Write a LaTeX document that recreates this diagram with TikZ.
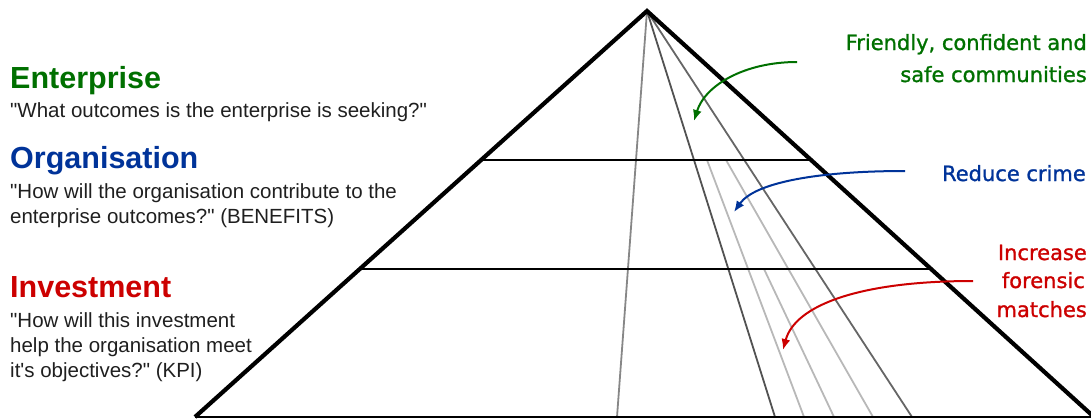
\documentclass[tikz,border=0pt]{standalone}
\usepackage{fontspec}
\setmainfont{Liberation Sans}
\newfontfamily\dejavu[FakeBold=1.2]{DejaVu Sans}
\usetikzlibrary{arrows.meta,calc}
\definecolor{entgreen}{RGB}{0,112,0}
\definecolor{orgblue}{RGB}{0,51,153}
\definecolor{invred}{RGB}{204,0,0}
\newcommand{\qq}{\textquotedbl}
\begin{document}
\begin{tikzpicture}[x=1pt,y=-1pt,
  heading/.style={anchor=base west,inner sep=0pt,font=\fontsize{30.5}{36}\selectfont\bfseries},
  question/.style={anchor=base west,inner sep=0pt,font=\fontsize{20.5}{24}\selectfont,text=black!88},
  goal/.style={anchor=base east,inner sep=0pt,font=\dejavu\fontsize{21}{25}\selectfont},
  outline/.style={line width=4.2pt,line join=miter},
  tier/.style={line width=2pt},
  ray/.style={line width=1.8pt},
  pointer/.style={line width=2pt,-{Latex[length=11pt,width=9pt]}}
]
\useasboundingbox (0,0) rectangle (1091,418);
\begin{scope}
\clip (0,0) rectangle (1091,418);
\coordinate (apex) at (647,11);
\coordinate (bl) at (195,417);
\coordinate (br) at (1094,417);
% rays from apex
\coordinate (r1) at (617,417);
\coordinate (r2) at (775,417);
\coordinate (r3) at (912,417);
\draw[ray,color=black!47] (apex) -- (r1);
\draw[ray,color=black!68] (apex) -- (r2);
\draw[ray,color=black!60] (apex) -- (r3);
% light rays
\coordinate (la1) at (707,160); \coordinate (la2) at (804,417);
\coordinate (lb1) at (726,160); \coordinate (lb2) at (873,417);
\coordinate (lc1) at (764,269); \coordinate (lc2) at (834,417);
\draw[ray,color=black!28] (la1) -- (la2);
\draw[ray,color=black!28] (lb1) -- (lb2);
\draw[ray,color=black!28] (lc1) -- (lc2);
% tiers
\draw[tier] ($(apex)!0.367!(bl)$) -- ($(apex)!0.367!(br)$);
\draw[tier] ($(apex)!0.635!(bl)$) -- ($(apex)!0.635!(br)$);
\draw[tier] (bl) -- (br);
% outline
\draw[outline] (bl) -- (apex) -- (br);
\end{scope}
% left labels
\node[heading,text=entgreen] (ent) at (10,88) {Enterprise};
\node[question] (entq) at (10,117) {\qq What outcomes is the enterprise is seeking?\qq};
\node[heading,text=orgblue] (org) at (10,168) {Organisation};
\node[question] (orgq1) at (10,198) {\qq How will the organisation contribute to the};
\node[question] (orgq2) at (10,223) {enterprise outcomes?\qq\ (BENEFITS)};
\node[heading,text=invred] (inv) at (10,297) {Investment};
\node[question] (invq1) at (10,327) {\qq How will this investment};
\node[question] (invq2) at (10,352) {help the organisation meet};
\node[question] (invq3) at (10,377) {it\textquotesingle s objectives?\qq\ (KPI)};
% right labels
\node[goal,text=entgreen] (g1) at (1087,50) {Friendly, confident and};
\node[goal,text=entgreen] (g2) at (1087,82) {safe communities};
\node[goal,text=orgblue] (b1) at (1086,181) {Reduce crime};
\node[goal,text=invred] (i1) at (1087,260) {Increase};
\node[goal,text=invred] (i2) at (1085,288) {forensic};
\node[goal,text=invred] (i3) at (1087,317) {matches};
% arrows
\coordinate (gs) at (797,62); \coordinate (ge) at (694,121);
\coordinate (bs) at (905,171); \coordinate (be) at (734,212);
\coordinate (rs) at (973,281); \coordinate (re) at (783,350);
\draw[pointer,entgreen] (gs) .. controls (745,62) and (705,85) .. (ge);
\draw[pointer,orgblue] (bs) .. controls (820,171) and (755,182) .. (be);
\draw[pointer,invred] (rs) .. controls (860,281) and (795,305) .. (re);
\end{tikzpicture}
\end{document}
